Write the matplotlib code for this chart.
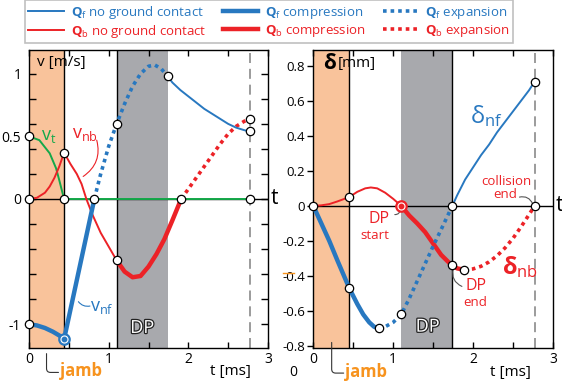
import matplotlib
matplotlib.use('Agg')
import matplotlib.pyplot as plt
import matplotlib.patheffects as pe
from matplotlib.lines import Line2D
import numpy as np

plt.rcParams['font.family'] = 'Open Sans'
plt.rcParams['mathtext.fontset'] = 'custom'
plt.rcParams['mathtext.rm'] = 'Open Sans'
plt.rcParams['mathtext.bf'] = 'Open Sans:bold'
plt.rcParams['mathtext.it'] = 'Open Sans:italic'
plt.rcParams['axes.unicode_minus'] = False

BLUE = '#2878c0'
RED = '#ec2227'
GREEN = '#14a84a'
JAMB = '#f9c39b'
JAMB_TXT = '#f7931e'
DPGRAY = '#a8a9ad'

# event times [ms]
t_jamb_v = 0.44
t_jamb_d = 0.45
t_dp = [1.10, 1.74]
t_end = 2.77

# ---- velocities [m/s] ----
vt_jamb_t = [0, 0.13, 0.26, 0.34, 0.38, 0.42, 0.44]
vt_jamb_v = [0.5, 0.47, 0.365, 0.245, 0.15, 0.05, 0.0]
vt_free_t = [0.44, 2.77]
vt_free_v = [0.0, 0.0]

vnb_free_t = [0, 0.1, 0.2, 0.26, 0.32, 0.38, 0.44, 0.52, 0.6, 0.66, 0.72, 0.8, 0.9, 1.0, 1.1]
vnb_free_v = [0, 0.01, 0.05, 0.1, 0.17, 0.26, 0.37, 0.28, 0.2, 0.12, 0.0, -0.13, -0.27, -0.38, -0.49]
vnb_comp_t = [1.1, 1.2, 1.3, 1.4, 1.5, 1.6, 1.7, 1.8, 1.91]
vnb_comp_v = [-0.49, -0.58, -0.625, -0.615, -0.54, -0.44, -0.32, -0.17, 0.0]
vnb_exp_t = [1.91, 2.0, 2.1, 2.2, 2.3, 2.4, 2.5, 2.6, 2.7, 2.77]
vnb_exp_v = [0.0, 0.08, 0.17, 0.26, 0.35, 0.44, 0.52, 0.58, 0.62, 0.64]

vnf_comp_t = [0, 0.1, 0.2, 0.3, 0.38, 0.44, 0.82]
vnf_comp_v = [-1.0, -1.01, -1.03, -1.06, -1.09, -1.12, 0.0]
vnf_exp_t = [0.82, 0.9, 1.0, 1.1, 1.2, 1.3, 1.4, 1.5, 1.58, 1.66, 1.74]
vnf_exp_v = [0.0, 0.2, 0.42, 0.6, 0.76, 0.9, 1.0, 1.06, 1.07, 1.04, 0.98]
vnf_free_t = [1.74, 1.8, 1.9, 2.0, 2.1, 2.2, 2.3, 2.4, 2.5, 2.6, 2.7, 2.77]
vnf_free_v = [0.98, 0.93, 0.87, 0.82, 0.77, 0.72, 0.68, 0.64, 0.6, 0.57, 0.55, 0.54]

v_marks_t = [0, 0, 0, 0.44, 0.44, 0.82, 1.10, 1.10, 1.74, 1.91, 2.77, 2.77, 2.77]
v_marks_v = [0.5, 0, -1.0, 0.37, 0, 0, 0.6, -0.49, 0.98, 0, 0.64, 0.54, 0]
v_ring = (0.44, -1.12)

# ---- deformations [mm] ----
dnf_comp_t = [0, 0.1, 0.2, 0.3, 0.45, 0.55, 0.625, 0.7, 0.76, 0.82]
dnf_comp_d = [0, -0.1, -0.2, -0.31, -0.47, -0.56, -0.62, -0.665, -0.69, -0.70]
dnf_exp_t = [0.82, 0.9, 1.0, 1.1, 1.2, 1.3, 1.4, 1.5, 1.6, 1.74]
dnf_exp_d = [-0.70, -0.69, -0.665, -0.62, -0.53, -0.43, -0.33, -0.23, -0.135, 0.0]
dnf_free_t = [1.74, 1.8, 1.9, 2.0, 2.1, 2.2, 2.3, 2.4, 2.5, 2.6, 2.7, 2.77]
dnf_free_d = [0.0, 0.06, 0.15, 0.22, 0.29, 0.35, 0.42, 0.48, 0.54, 0.6, 0.66, 0.71]

dnb_free_t = [0, 0.1, 0.2, 0.3, 0.45, 0.55, 0.65, 0.72, 0.8, 0.9, 1.0, 1.1]
dnb_free_d = [0, 0.003, 0.01, 0.025, 0.05, 0.08, 0.1, 0.105, 0.1, 0.075, 0.04, 0.0]
dnb_comp_t = [1.1, 1.2, 1.3, 1.4, 1.5, 1.6, 1.7, 1.74, 1.8, 1.89]
dnb_comp_d = [0.0, -0.055, -0.1, -0.15, -0.215, -0.28, -0.325, -0.34, -0.357, -0.365]
dnb_exp_t = [1.89, 2.0, 2.1, 2.2, 2.3, 2.4, 2.5, 2.6, 2.7, 2.77]
dnb_exp_d = [-0.365, -0.36, -0.345, -0.32, -0.285, -0.24, -0.185, -0.12, -0.05, 0.0]

d_marks_t = [0, 0.45, 0.45, 0.82, 1.10, 1.74, 1.74, 1.89, 2.77, 2.77]
d_marks_d = [0, 0.05, -0.47, -0.70, -0.62, 0, -0.34, -0.365, 0.71, 0]
d_ring = (1.10, 0.0)

THIN = 1.4
THICK = 3.2
DOTW = 2.6
DOTS = (0, (1, 1.1))


def free(ax, t, y, c):
    ax.plot(t, y, color=c, lw=THIN, solid_capstyle='round', zorder=4)


def comp(ax, t, y, c):
    ax.plot(t, y, color=c, lw=THICK, solid_capstyle='butt', zorder=4)


def expa(ax, t, y, c):
    ax.plot(t, y, color=c, lw=DOTW, ls=DOTS, zorder=4)


def marks(ax, t, y):
    ax.plot(t, y, 'o', ms=6, mfc='white', mec='k', mew=0.9, ls='none', zorder=6, clip_on=False)


def ring(ax, p, c):
    ax.plot(p[0], p[1], 'o', ms=7.5, mfc='white', mec=c, mew=1.6, zorder=6, clip_on=False)
    ax.plot(p[0], p[1], 'o', ms=3.2, mfc=c, mec=c, zorder=7, clip_on=False)


def frame(ax, jamb, ylim):
    ax.set_xlim(0, 3)
    ax.set_ylim(*ylim)
    ax.axvspan(0, jamb, color=JAMB, lw=0, zorder=0)
    ax.axvspan(t_dp[0], t_dp[1], color=DPGRAY, lw=0, zorder=0)
    ax.axvline(t_end, color='#8a8a8a', lw=1.2, ls=(0, (6, 3.5)), zorder=1)
    ax.axhline(0, color='k', lw=1.0, zorder=2)
    for s in ax.spines.values():
        s.set_linewidth(1.0)
    ax.set_xticks(np.arange(0, 3.01, 0.5))
    ax.set_xticklabels(['0', '', '1', '', '2', '', '3'])
    ax.tick_params(axis='x', direction='in', top=True, length=4, width=1, pad=3, labelsize=10)


fig = plt.figure(figsize=(5.62, 3.85), dpi=100)
ax1 = fig.add_axes([29 / 562, 37 / 385, 239 / 562, 298 / 385])
ax2 = fig.add_axes([313.3 / 562, 37.3 / 385, 239.7 / 562, 297.7 / 385])

# ---------- left: velocities ----------
frame(ax1, t_jamb_v, (-1.19, 1.19))
ax1.axvline(t_jamb_v, color='k', lw=1.0, zorder=2)
ax1.axvline(t_dp[0], color='k', lw=1.0, zorder=2)
ax1.yaxis.remove_overlapping_locs = False
ax1.set_yticks([-1, 0, 0.5, 1])
ax1.set_yticklabels(['-1', '0', '0.5', '1'])
ax1.set_yticks(np.arange(-1.0, 1.01, 0.2), minor=True)
ax1.tick_params(axis='y', which='major', length=0, pad=5.5, labelsize=10)
ax1.tick_params(axis='y', which='minor', direction='in', left=True, right=True, length=5, width=1)

ax1.plot(vt_jamb_t, vt_jamb_v, color=GREEN, lw=THIN, zorder=4)
ax1.plot(vt_free_t, vt_free_v, color=GREEN, lw=THIN, zorder=4)
free(ax1, vnb_free_t, vnb_free_v, RED)
comp(ax1, vnb_comp_t, vnb_comp_v, RED)
expa(ax1, vnb_exp_t, vnb_exp_v, RED)
comp(ax1, vnf_comp_t, vnf_comp_v, BLUE)
expa(ax1, vnf_exp_t, vnf_exp_v, BLUE)
free(ax1, vnf_free_t, vnf_free_v, BLUE)
marks(ax1, v_marks_t, v_marks_v)
ring(ax1, v_ring, BLUE)

ax1.text(0.097, 1.09, 'v [m/s]', fontsize=11, ha='left', va='center', zorder=8)
ax1.text(0.15, 0.5, r'v$_\mathrm{t}$', fontsize=13, color=GREEN, ha='left', va='center')
ax1.text(0.54, 0.52, r'v$_\mathrm{nb}$', fontsize=13, color=RED, ha='left', va='center')
ax1.annotate('', xy=(0.68, 0.18), xytext=(0.85, 0.47),
             arrowprops=dict(arrowstyle='-', color=RED, lw=0.8, shrinkA=0, shrinkB=0,
                             connectionstyle='arc3,rad=-0.35'))
ax1.text(0.77, -0.86, r'v$_\mathrm{nf}$', fontsize=13, color=BLUE, ha='left', va='center')
ax1.annotate('', xy=(0.62, -0.82), xytext=(0.765, -0.855),
             arrowprops=dict(arrowstyle='-', color=BLUE, lw=0.8, shrinkA=0, shrinkB=0,
                             connectionstyle='arc3,rad=-0.3'))
ax1.text(1.42, -1.03, 'DP', fontsize=13, color='white', ha='center', va='center', zorder=8,
         path_effects=[pe.withStroke(linewidth=1.8, foreground='#222222')])
ax1.text(0.39, -1.375, 'jamb', fontsize=12, fontweight='bold', color=JAMB_TXT, ha='left', va='center')
ax1.annotate('', xy=(0.22, -1.235), xytext=(0.37, -1.385), annotation_clip=False,
             arrowprops=dict(arrowstyle='-', color='#333333', lw=0.8, shrinkA=0, shrinkB=0,
                             connectionstyle='angle,angleA=0,angleB=90,rad=4'))
ax1.text(2.27, -1.38, 't [ms]', fontsize=11, ha='left', va='center')
ax1.text(3.03, 0.0, 't', fontsize=15, ha='left', va='center')

# ---------- right: deformations ----------
frame(ax2, t_jamb_d, (-0.81, 0.89))
ax2.axvline(t_jamb_d, color='k', lw=1.0, zorder=2)
ax2.axvline(t_dp[1], color='k', lw=1.0, zorder=2)
ax2.set_yticks(np.arange(-0.8, 0.81, 0.2))
ax2.set_yticklabels(['-0.8', '-0.6', '-0.4', '-0.2', '0', '0.2', '0.4', '0.6', '0.8'])
ax2.tick_params(axis='y', direction='out', length=4, width=1, pad=2, labelsize=9.5)

free(ax2, dnb_free_t, dnb_free_d, RED)
comp(ax2, dnb_comp_t, dnb_comp_d, RED)
expa(ax2, dnb_exp_t, dnb_exp_d, RED)
comp(ax2, dnf_comp_t, dnf_comp_d, BLUE)
expa(ax2, dnf_exp_t, dnf_exp_d, BLUE)
free(ax2, dnf_free_t, dnf_free_d, BLUE)
marks(ax2, d_marks_t, d_marks_d)
ring(ax2, d_ring, RED)

ax2.text(0.12, 0.815, 'δ', fontsize=15, fontweight='bold', ha='left', va='center', zorder=8)
ax2.text(0.31, 0.815, '[mm]', fontsize=11, ha='left', va='center', zorder=8)
ax2.text(1.96, 0.51, r'$\mathrm{δ}_\mathrm{nf}$', fontsize=17, color=BLUE, ha='left', va='center')
ax2.text(2.42, 0.137, 'collision', fontsize=9.5, color=RED, ha='center', va='center')
ax2.text(2.40, 0.063, 'end', fontsize=9.5, color=RED, ha='center', va='center')
ax2.annotate('', xy=(2.745, 0.012), xytext=(2.58, 0.05),
             arrowprops=dict(arrowstyle='-', color='#555555', lw=0.8, shrinkA=0, shrinkB=0,
                             connectionstyle='arc3,rad=-0.4'))
ax2.text(0.82, -0.075, 'DP', fontsize=11.5, color=RED, ha='center', va='center')
ax2.text(0.77, -0.17, 'start', fontsize=9.5, color=RED, ha='center', va='center')
ax2.annotate('', xy=(1.085, -0.02), xytext=(1.02, -0.05),
             arrowprops=dict(arrowstyle='-', color='#555555', lw=0.8, shrinkA=0, shrinkB=0,
                             connectionstyle='arc3,rad=0.5'))
ax2.text(2.04, -0.455, 'DP', fontsize=11.5, color=RED, ha='center', va='center')
ax2.text(2.03, -0.55, 'end', fontsize=9.5, color=RED, ha='center', va='center')
ax2.annotate('', xy=(1.86, -0.46), xytext=(1.75, -0.36),
             arrowprops=dict(arrowstyle='-', color='#555555', lw=0.8, shrinkA=0, shrinkB=0,
                             connectionstyle='arc3,rad=0.4'))
ax2.text(2.36, -0.35, r'$\mathbf{δ}_\mathrm{nb}$', fontsize=17, color=RED, ha='left', va='center')
ax2.text(1.43, -0.69, 'DP', fontsize=13, color='white', ha='center', va='center', zorder=8,
         path_effects=[pe.withStroke(linewidth=1.8, foreground='#222222')])
ax2.text(0.40, -0.949, 'jamb', fontsize=12, fontweight='bold', color=JAMB_TXT, ha='left', va='center')
ax2.annotate('', xy=(0.23, -0.78), xytext=(0.38, -0.955), annotation_clip=False,
             arrowprops=dict(arrowstyle='-', color='#333333', lw=0.8, shrinkA=0, shrinkB=0,
                             connectionstyle='angle,angleA=0,angleB=90,rad=4'))
ax2.text(2.21, -0.95, 't [ms]', fontsize=11, ha='left', va='center')
ax2.text(3.03, 0.0, 't', fontsize=15, ha='left', va='center')

fig.text(293 / 562, 1 - 372 / 385, '0', fontsize=10, ha='center', va='center')
fig.add_artist(Line2D([283 / 562, 294 / 562], [1 - 273 / 385, 1 - 273 / 385], color=JAMB_TXT, lw=1))

# ---------- legend ----------
handles = [Line2D([], [], color=BLUE, lw=THIN), Line2D([], [], color=RED, lw=THIN),
           Line2D([], [], color=BLUE, lw=THICK), Line2D([], [], color=RED, lw=THICK),
           Line2D([], [], color=BLUE, lw=DOTW, ls=DOTS), Line2D([], [], color=RED, lw=DOTW, ls=DOTS)]
labels = [r'$\mathbf{Q}_\mathrm{f}$ no ground contact', r'$\mathbf{Q}_\mathrm{b}$ no ground contact',
          r'$\mathbf{Q}_\mathrm{f}$ compression', r'$\mathbf{Q}_\mathrm{b}$ compression',
          r'$\mathbf{Q}_\mathrm{f}$ expansion', r'$\mathbf{Q}_\mathrm{b}$ expansion']
leg = fig.legend(handles, labels, loc='lower left', ncol=3, mode='expand',
                 bbox_to_anchor=(25 / 562, 1 - 43 / 385, 488 / 562, 38 / 385),
                 fontsize=9.5, frameon=True, fancybox=False, edgecolor='#b0b0b0',
                 handlelength=2.7, handletextpad=0.5, borderaxespad=0, labelspacing=0.15,
                 borderpad=0.25, columnspacing=1.2)
leg.get_frame().set_linewidth(1.2)
for txt, c in zip(leg.get_texts(), [BLUE, RED, BLUE, RED, BLUE, RED]):
    txt.set_color(c)

fig.savefig('out.png', dpi=100)
